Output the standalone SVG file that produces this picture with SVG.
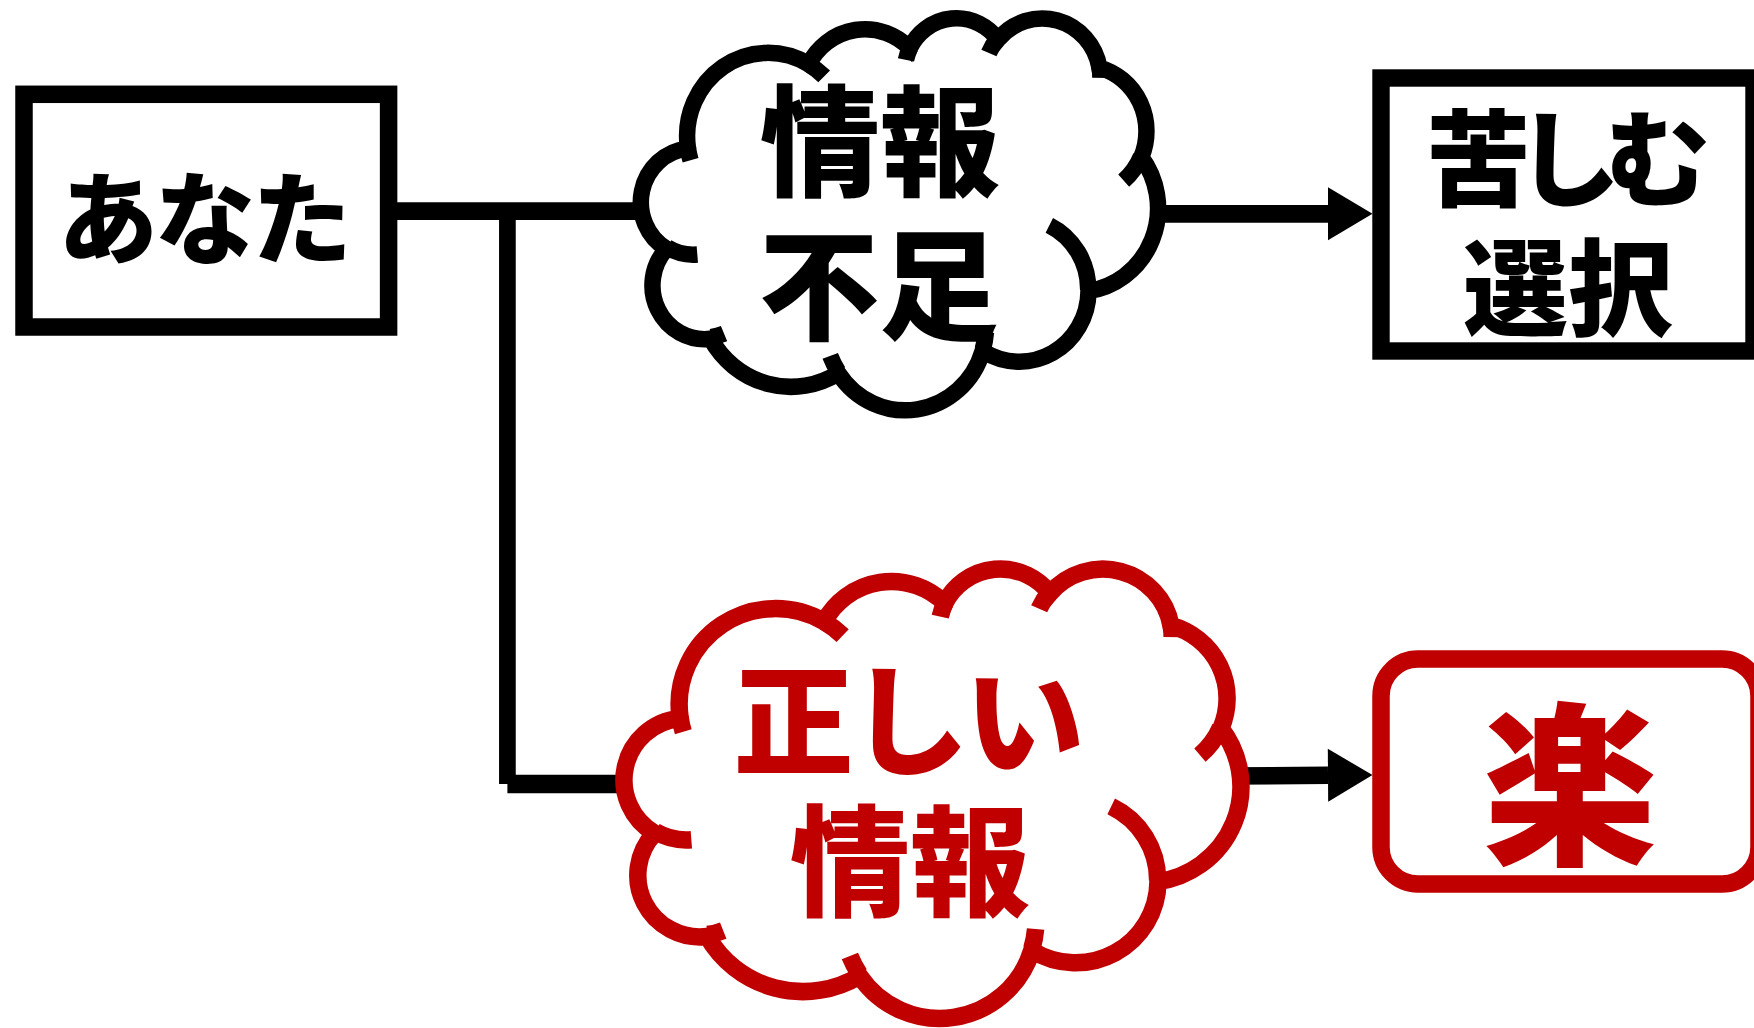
<svg xmlns="http://www.w3.org/2000/svg" xmlns:xlink="http://www.w3.org/1999/xlink" width="1754" height="1028" viewBox="0 0 1754 1028">
<style>
.blk{stroke:#000;fill:#fff}
.red{stroke:#C00000;fill:#fff}
.conn{stroke:#000;fill:none;stroke-linecap:butt}
.t{font-family:"Noto Sans CJK JP","Noto Sans CJK SC",sans-serif;font-weight:900;text-anchor:middle}
.tb{fill:#000}
.tr{fill:#C00000}
</style>
<defs>
<marker id="ah" markerUnits="userSpaceOnUse" markerWidth="46" markerHeight="54" refX="0" refY="26.5" orient="auto" overflow="visible">
<path d="M0,0 L44.5,26.5 L0,53 Z" fill="#000"/>
</marker>
<g id="cloudShape">
<path vector-effect="non-scaling-stroke" d="M3900,14370 A6753,9190 0 0 1 14005,5202 A5333,7267 0 0 1 22458,3429 A4365,5945 0 0 1 29836,2478 A4857,6595 0 0 1 38321,5573 A5333,7273 0 0 1 41821,15456 A6775,9220 0 0 1 37406,30199 A5785,7867 0 0 1 28558,36809 A6752,9215 0 0 1 16484,39263 A7720,10543 0 0 1 5810,35470 A4360,5918 0 0 1 2118,25548 A4345,5945 0 0 1 3869,14505 Z"/>
<path vector-effect="non-scaling-stroke" fill="none" d="M4694,26177 A4345,5945 0 0 1 2160,25380 M6928,34899 A4360,5918 0 0 1 5820,35280 M16478,39090 A6752,9215 0 0 1 15809,37347 M28827,34751 A6752,9215 0 0 1 28560,36660 M34129,22954 A5785,7867 0 0 1 37381,30090 M41798,15354 A5333,7273 0 0 1 40350,18030 M38324,5426 A4857,6595 0 0 1 38400,6690 M29078,3952 A4857,6595 0 0 1 29820,2340 M22141,4720 A4365,5945 0 0 1 22500,3331 M14000,5192 A6753,9190 0 0 1 15301,6541 M4127,15789 A6753,9190 0 0 1 3900,14370"/>
</g>
</defs>
<rect width="1754" height="1028" fill="#fff"/>
<g id="connectors">
<line class="conn" x1="388" y1="211.2" x2="660" y2="211.2" stroke-width="17.7"/>
<line class="conn" x1="507.4" y1="211.2" x2="507.4" y2="784" stroke-width="16.7"/>
<line class="conn" x1="507.4" y1="784" x2="660" y2="784" stroke-width="18.3"/>
<line class="conn" x1="1100" y1="213.8" x2="1328" y2="213.8" stroke-width="17.7" marker-end="url(#ah)"/>
<line class="conn" x1="1180" y1="776.3" x2="1328" y2="775.3" stroke-width="17.5" marker-end="url(#ah)"/>
</g>
<g id="node-anata">
<rect class="blk" x="24" y="94.3" width="364.6" height="232.7" stroke-width="17.5"/>
<text class="t tb" x="205" y="256" font-size="100" textLength="294" lengthAdjust="spacing">あなた</text>
</g>
<g id="node-jouhou-fusoku">
<use xlink:href="#cloudShape" class="blk" stroke-width="16.5" transform="translate(641.2,17.1) scale(0.011958,0.0090694)"/>
<text class="t tb" x="880" y="187" font-size="120">情報</text>
<text class="t tb" x="879" y="331" font-size="120">不足</text>
</g>
<g id="node-tadashii-jouhou">
<use xlink:href="#cloudShape" class="red" stroke-width="17.5" transform="translate(624.4,567.6) scale(0.014264,0.0104)"/>
<text class="t tr" x="909" y="766" font-size="120" textLength="351" lengthAdjust="spacing">正しい</text>
<text class="t tr" x="910" y="907" font-size="120">情報</text>
</g>
<g id="node-kurushimu">
<rect class="blk" x="1381" y="78" width="373" height="273" stroke-width="17.4"/>
<text class="t tb" x="1568" y="198" font-size="105" textLength="284" lengthAdjust="spacing">苦しむ</text>
<text class="t tb" x="1568" y="327" font-size="105">選択</text>
</g>
<g id="node-raku">
<rect class="red" x="1381" y="659" width="378" height="225" rx="37" ry="37" stroke-width="17.5"/>
<text class="t tr" x="1570" y="851" font-size="175">楽</text>
</g>
</svg>
